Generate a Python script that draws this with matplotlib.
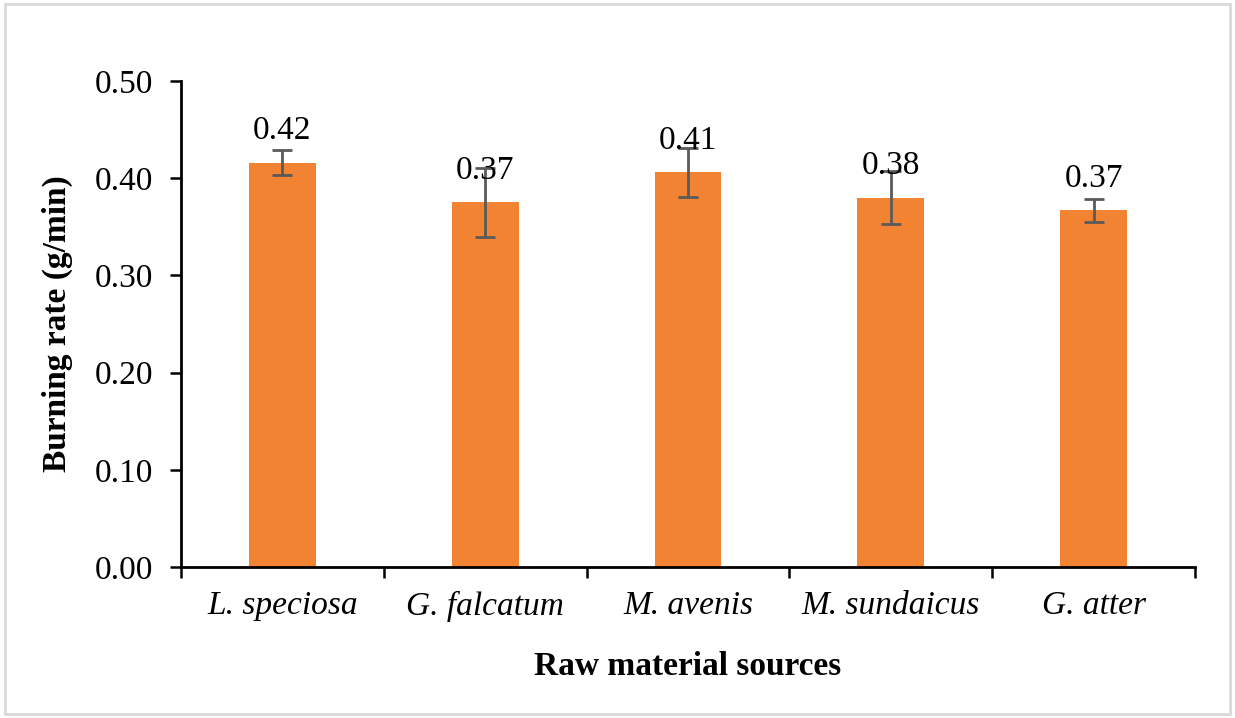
import numpy as np
import matplotlib.pyplot as plt
from matplotlib.patches import Rectangle

# Burning rate per raw material source
species = ['L. speciosa', 'G. falcatum', 'M. avenis', 'M. sundaicus', 'G. atter']
rate = [0.416, 0.375, 0.406, 0.380, 0.367]
err = [0.013, 0.035, 0.025, 0.027, 0.012]
labels = ['0.42', '0.37', '0.41', '0.38', '0.37']
yticks = [0.0, 0.1, 0.2, 0.3, 0.4, 0.5]

plt.rcParams['font.family'] = ['Liberation Serif', 'DejaVu Serif']

fig = plt.figure(figsize=(12.35, 7.18), dpi=100)
ax = fig.add_axes([0.1466, 0.2103, 0.8210, 0.6769])

x = np.arange(len(species)) + 0.5
ax.bar(x, rate, width=0.33, color='#F28333', zorder=2)
ax.errorbar(x, rate, yerr=err, fmt='none', ecolor='#5a5a5a',
            elinewidth=2, capsize=7, capthick=2, zorder=3)

for xi, v, lab in zip(x, rate, labels):
    ax.annotate(lab, (xi, v), xytext=(0, 12), textcoords='offset points',
                ha='center', va='bottom', fontsize=24)

ax.set_xlim(0, len(species))
ax.set_ylim(0, 0.5)
ax.set_yticks(yticks)
ax.set_yticklabels(['%.2f' % t for t in yticks], fontsize=24)
ax.set_xticks(np.arange(len(species) + 1))
ax.set_xticklabels([])
ax.set_xticks(x, minor=True)
ax.set_xticklabels(species, minor=True, fontsize=24, style='italic')
ax.tick_params(axis='x', which='minor', length=0, pad=17)
ax.tick_params(axis='x', which='major', length=8, width=1.8, direction='out')
ax.tick_params(axis='y', length=8, width=1.8, direction='out', pad=12)

for s in ['top', 'right']:
    ax.spines[s].set_visible(False)
for s in ['left', 'bottom']:
    ax.spines[s].set_linewidth(2)

ax.set_ylabel('Burning rate (g/min)', fontsize=24, fontweight='bold')
ax.set_xlabel('Raw material sources', fontsize=24, fontweight='bold')
ax.yaxis.set_label_coords(-0.107, 0.5)
ax.xaxis.set_label_coords(0.5, -0.172)

# light frame around the whole picture
fig.patches.append(Rectangle((0.004, 0.006), 0.992, 0.988, transform=fig.transFigure,
                             fill=False, edgecolor='#d9d9d9', linewidth=2))

fig.savefig('out.png', dpi=100)
